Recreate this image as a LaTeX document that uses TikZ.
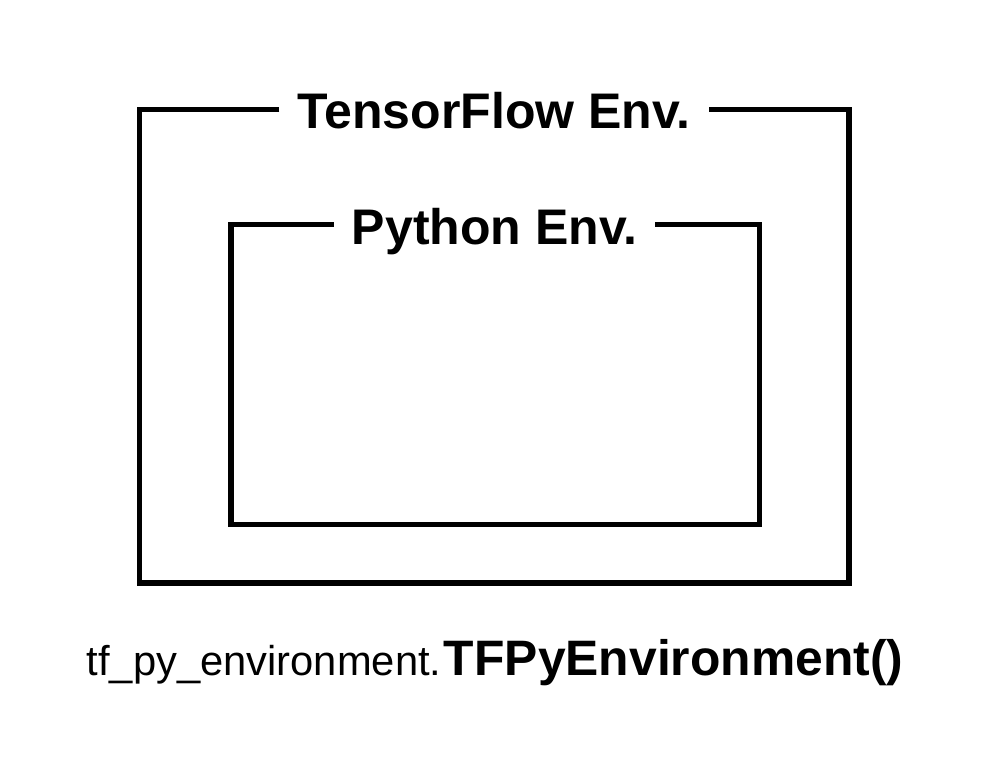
\documentclass[tikz,border=0pt]{standalone}
\usepackage{fontspec}
\setmainfont{Liberation Sans}
\begin{document}
\begin{tikzpicture}[x=1pt,y=-1pt,
  frame/.style={line width=5.5pt,line join=miter,line cap=butt},
  title/.style={font=\fontsize{50}{58}\bfseries\selectfont,inner xsep=18pt,inner ysep=0pt,anchor=base}]
\useasboundingbox (0,0) rectangle (990,767);
\coordinate (otl) at (139.5,109.5);
\coordinate (obr) at (849,583);
\coordinate (itl) at (231,224.5);
\coordinate (ibr) at (759.7,524.5);
\node[title] (tfenv) at (494,129) {TensorFlow Env.};
\node[title] (pyenv) at (494.5,245) {Python Env.};
\draw[frame] (tfenv.west |- otl) -- (otl) -- (otl |- obr) -- (obr) -- (obr |- otl) -- (tfenv.east |- otl);
\draw[frame] (pyenv.west |- itl) -- (itl) -- (itl |- ibr) -- (ibr) -- (ibr |- itl) -- (pyenv.east |- itl);
\node[anchor=base,inner sep=0pt] (call) at (495,675) {\fontsize{41.7}{48}\selectfont tf\_py\_environment.\hspace{2.5pt}{\fontsize{49.8}{58}\bfseries\selectfont TFPyEnvironment()}};
\end{tikzpicture}
\end{document}
